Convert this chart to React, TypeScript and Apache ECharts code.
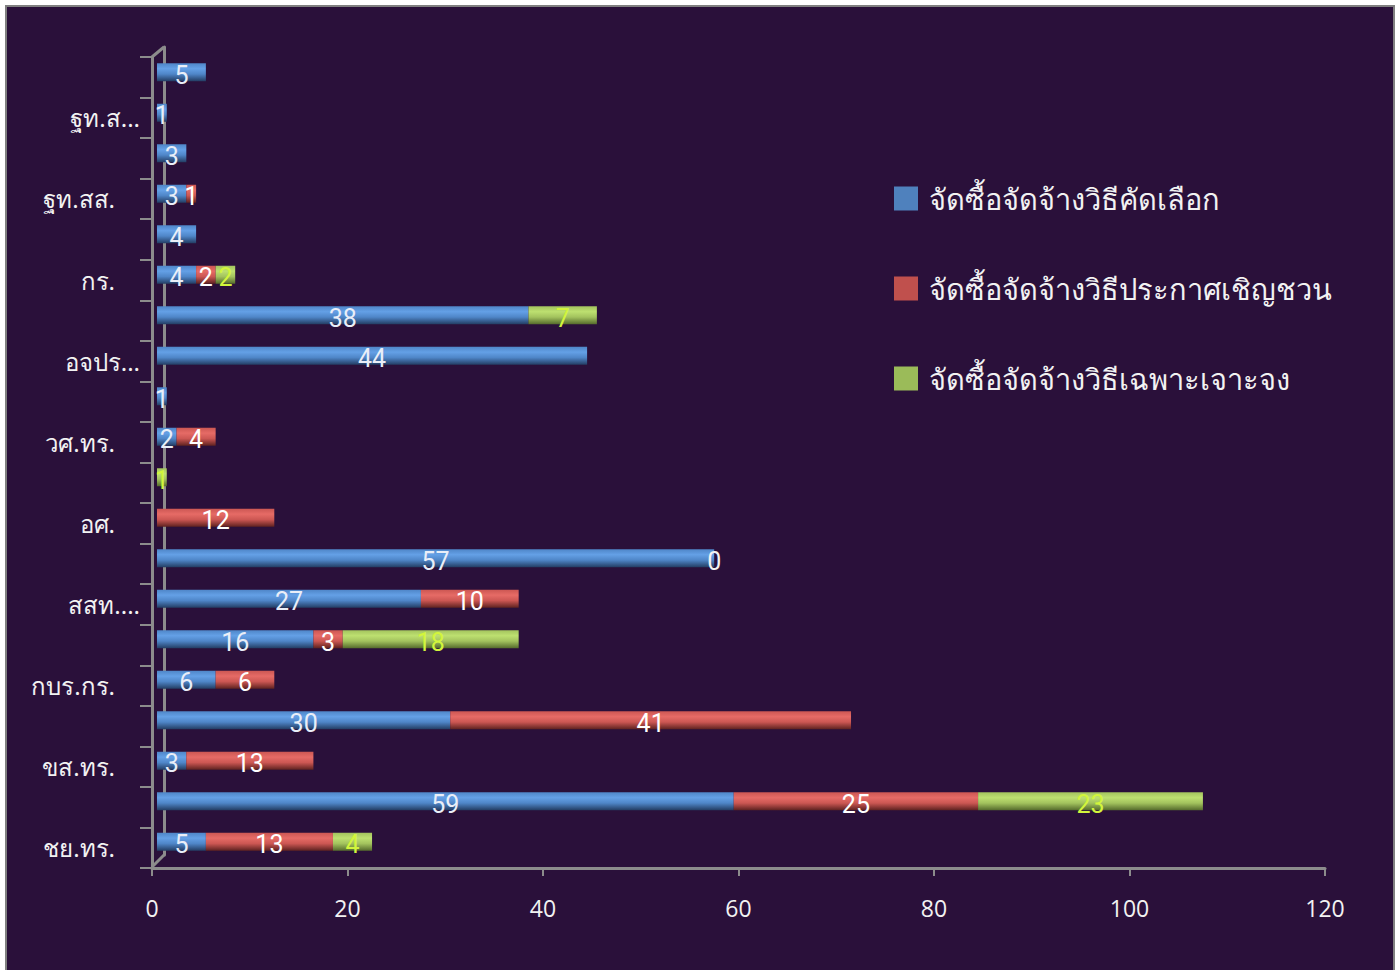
import React, { useEffect, useRef } from "react";
import * as echarts from "echarts";

// Categories from bottom (index 0) to top (index 19); odd rows carry no visible label
const categories = [
  "ชย.ทร.", "", "ขส.ทร.", "", "กบร.กร.", "", "สสท....", "", "อศ.", "",
  "วศ.ทร.", "", "อจปร...", "", "กร.", "", "ฐท.สส.", "", "ฐท.ส...", "",
];

const seriesNames = [
  "จัดซื้อจัดจ้างวิธีคัดเลือก",
  "จัดซื้อจัดจ้างวิธีประกาศเชิญชวน",
  "จัดซื้อจัดจ้างวิธีเฉพาะเจาะจง",
];

const blueValues = [5, 59, 3, 30, 6, 16, 27, 57, null, null, 2, 1, 44, 38, 4, 4, 3, 3, 1, 5];
const redValues = [13, 25, 13, 41, 6, 3, 10, null, 12, null, 4, null, null, null, 2, null, 1, null, null, null];
const greenValues = [4, 23, null, null, null, 18, null, 0, null, 1, null, null, null, 7, 2, null, null, null, null, null];

const xTicks = { min: 0, max: 120, interval: 20 };

const legendColors = ["#4f81bd", "#c0504d", "#9bbb59"];

function grad(top: string, mid: string, bottom: string) {
  return new echarts.graphic.LinearGradient(0, 0, 0, 1, [
    { offset: 0, color: mid },
    { offset: 0.3, color: top },
    { offset: 0.6, color: mid },
    { offset: 1, color: bottom },
  ]);
}

export default function App() {
  const ref = useRef<HTMLDivElement>(null);

  useEffect(() => {
    if (!ref.current) return;
    const chart = echarts.init(ref.current, undefined, { renderer: "svg" });
    const axisColor = "#8c8c8c";
    const textColor = "#f2f2f2";
    const numFont = "'Liberation Sans Narrow', 'Roboto', 'Open Sans', sans-serif";
    const thaiFont = "'Noto Sans', 'DejaVu Sans', sans-serif";

    const barLabel = (color: string) => ({
      show: true,
      position: "inside" as const,
      color,
      fontSize: 25,
      fontFamily: numFont,
      offset: [0, 3],
    });

    const greenData = greenValues.map((v) =>
      v === 0 ? { value: 0, label: { color: "#f2f2f2" } } : v
    );

    chart.setOption({
      animation: false,
      backgroundColor: "transparent",
      grid: [
        { left: 152, top: 57, width: 1173, height: 811 },
        { left: 164, top: 47, width: 1173, height: 808 },
        { left: 157, top: 52, width: 1173, height: 810 },
      ],
      legend: {
        orient: "vertical",
        left: 889,
        top: 179,
        itemWidth: 24,
        itemHeight: 24,
        itemGap: 61,
        icon: "rect",
        textStyle: { color: textColor, fontSize: 29, fontFamily: thaiFont, padding: [0, 0, 0, 6] },
        data: seriesNames.map((n, i) => ({ name: n, itemStyle: { color: legendColors[i] } })),
      },
      xAxis: [
        {
          gridIndex: 0,
          type: "value",
          min: xTicks.min,
          max: xTicks.max,
          interval: xTicks.interval,
          axisLine: { show: true, lineStyle: { color: axisColor, width: 3 } },
          axisTick: { show: true, length: 8, lineStyle: { color: axisColor, width: 2 } },
          axisLabel: { color: textColor, fontSize: 23, margin: 28, fontFamily: "'Open Sans', sans-serif" },
          splitLine: { show: false },
        },
        { gridIndex: 1, type: "value", min: xTicks.min, max: xTicks.max, show: false },
        { gridIndex: 2, type: "value", min: xTicks.min, max: xTicks.max, show: false },
      ],
      yAxis: [
        {
          gridIndex: 0,
          type: "category",
          data: categories,
          axisLine: { show: true, lineStyle: { color: axisColor, width: 3 } },
          axisTick: { show: true, length: 12, interval: 0, lineStyle: { color: axisColor, width: 2 } },
          axisLabel: {
            color: textColor,
            fontSize: 24,
            margin: 12,
            interval: 0,
            fontFamily: thaiFont,
            formatter: (v: string) => (v.endsWith("...") ? `{t|${v}}` : `{n|${v}}`),
            rich: {
              t: { color: textColor, fontSize: 24, fontFamily: thaiFont },
              n: { color: textColor, fontSize: 24, fontFamily: thaiFont, padding: [0, 25, 0, 0] },
            },
          },
        },
        {
          gridIndex: 1,
          type: "category",
          data: categories,
          axisLine: { show: true, lineStyle: { color: axisColor, width: 3 } },
          axisTick: { show: false },
          axisLabel: { show: false },
        },
        { gridIndex: 2, type: "category", data: categories, show: false },
      ],
      graphic: [
        { type: "line", shape: { x1: 152, y1: 57, x2: 164, y2: 47 }, style: { stroke: axisColor, lineWidth: 3 } },
        { type: "line", shape: { x1: 152, y1: 867, x2: 164, y2: 855 }, style: { stroke: axisColor, lineWidth: 3 } },
      ],
      series: [
        {
          name: seriesNames[0],
          type: "bar",
          stack: "total",
          xAxisIndex: 2,
          yAxisIndex: 2,
          barWidth: 18,
          data: blueValues,
          itemStyle: { color: grad("#64a0e6", "#4f86c8", "#233d63") },
          label: barLabel("#e9eef8"),
        },
        {
          name: seriesNames[1],
          type: "bar",
          stack: "total",
          xAxisIndex: 2,
          yAxisIndex: 2,
          barWidth: 18,
          data: redValues,
          itemStyle: { color: grad("#e66b66", "#cc5753", "#5e2220") },
          label: barLabel("#ffffff"),
        },
        {
          name: seriesNames[2],
          type: "bar",
          stack: "total",
          xAxisIndex: 2,
          yAxisIndex: 2,
          barWidth: 18,
          data: greenData,
          itemStyle: { color: grad("#bde070", "#a3c35e", "#556b2c") },
          label: barLabel("#d2f53c"),
        },
      ],
    });
    return () => chart.dispose();
  }, []);

  return (
    <div style={{ position: "absolute", left: 0, top: 0, width: 1399, height: 970, background: "#ffffff", overflow: "hidden" }}>
      <div
        style={{
          position: "absolute",
          left: 5,
          top: 5,
          width: 1390,
          height: 980,
          boxSizing: "border-box",
          border: "2px solid #808080",
          background: "#2a103a",
        }}
      />
      <div ref={ref} style={{ position: "absolute", left: 0, top: 0, width: 1399, height: 970 }} />
    </div>
  );
}
